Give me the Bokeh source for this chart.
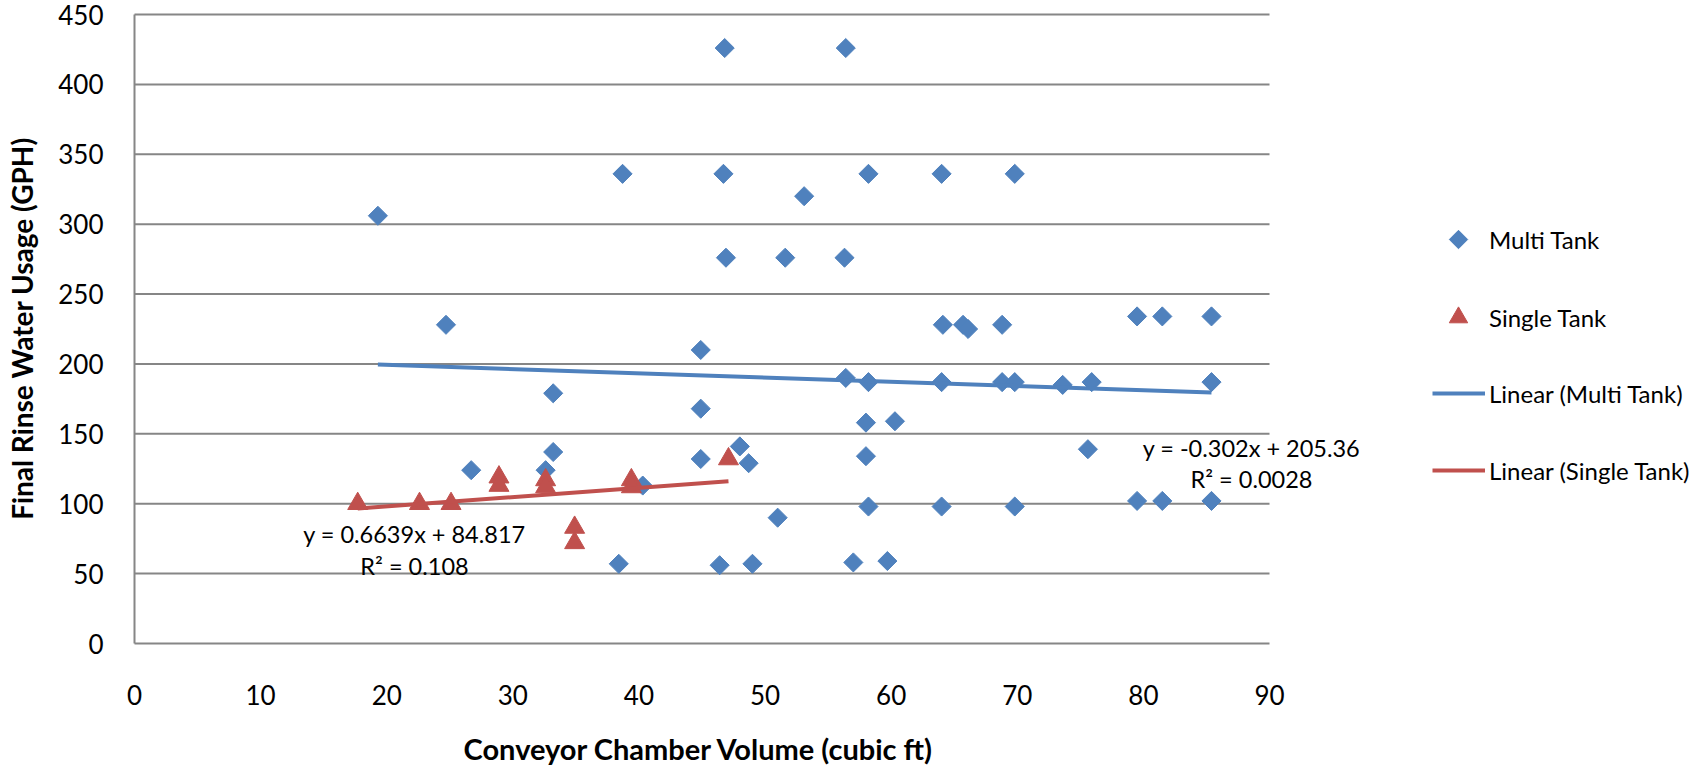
import math
from bokeh.plotting import figure
from bokeh.models import Range1d, FixedTicker, Label, Legend, LegendItem
from bokeh.embed import file_html
from bokeh.resources import INLINE

# ---------------- data ----------------
multi_x = [19.3, 24.7, 26.7, 32.6, 33.2, 33.2, 38.4, 38.7, 40.3, 44.9, 44.9, 44.9,
           46.4, 46.7, 46.8, 46.9, 48.0, 48.7, 49.0, 51.0, 51.6, 53.1, 56.3, 56.4,
           56.4, 57.0, 58.0, 58.0, 58.2, 58.2, 58.2, 59.7, 60.3, 64.0, 64.0, 64.0,
           64.1, 65.7, 66.1, 68.8, 68.8, 69.8, 69.8, 69.8, 73.6, 75.6, 75.9, 79.5,
           79.5, 81.5, 81.5, 85.4, 85.4, 85.4]
multi_y = [306, 228, 124, 124, 137, 179, 57, 336, 113, 210, 168, 132,
           56, 336, 426, 276, 141, 129, 57, 90, 276, 320, 276, 426,
           190, 58, 158, 134, 336, 187, 98, 59, 159, 336, 187, 98,
           228, 228, 225, 228, 187, 336, 187, 98, 185, 139, 187, 234,
           102, 234, 102, 234, 187, 102]

single_x = [17.7, 22.6, 25.1, 28.9, 28.9, 32.6, 32.6, 34.9, 34.9, 39.4, 39.4, 47.1]
single_y = [100, 100, 100, 119, 113, 117, 112, 83, 72, 117, 112, 132]

multi_slope, multi_intercept = -0.302, 205.36
single_slope, single_intercept = 0.6639, 84.817
multi_eq = "y = -0.302x + 205.36"
multi_r2 = "R² = 0.0028"
single_eq = "y = 0.6639x + 84.817"
single_r2 = "R² = 0.108"

series_names = ["Multi Tank", "Single Tank", "Linear (Multi Tank)", "Linear (Single Tank)"]
x_ticks = [0, 10, 20, 30, 40, 50, 60, 70, 80, 90]
y_ticks = [0, 50, 100, 150, 200, 250, 300, 350, 400, 450]
x_title = "Conveyor Chamber Volume  (cubic ft)"
y_title = "Final Rinse Water Usage (GPH)"

# ---------------- layout (figure pixels, origin top-left) ----------------
W, H = 1697, 767
X0_PX, X90_PX = 134, 1269      # where x = 0 and x = 90 sit
Y0_PX, Y450_PX = 643, 14       # where y = 0 and y = 450 sit
x_ppu = (X90_PX - X0_PX) / (x_ticks[-1] - x_ticks[0])
y_ppu = (Y0_PX - Y450_PX) / (y_ticks[-1] - y_ticks[0])
x_start = -X0_PX / x_ppu
x_end = x_start + W / x_ppu
y_start = -(H - Y0_PX) / y_ppu
y_end = y_start + H / y_ppu


def px_x(px):
    return x_start + px / x_ppu


def px_y(py):
    return y_start + (H - py) / y_ppu


BLUE = "#4F81BD"
RED = "#C0504D"
GRID = "#868686"
FONT = "Lato"

p = figure(width=W, height=H,
           x_range=Range1d(x_start, x_end), y_range=Range1d(y_start, y_end),
           output_backend="svg", toolbar_location=None,
           min_border=0, min_border_left=0, min_border_right=0,
           min_border_top=0, min_border_bottom=0)
p.outline_line_color = None
p.xgrid.visible = False
p.ygrid.visible = False

p.xaxis.ticker = FixedTicker(ticks=x_ticks)
p.yaxis.ticker = FixedTicker(ticks=y_ticks)
p.xaxis.fixed_location = 0
p.yaxis.fixed_location = 0
for ax in (p.xaxis[0], p.yaxis[0]):
    ax.major_tick_line_color = None
    ax.minor_tick_line_color = None
    ax.major_tick_out = 0
    ax.major_tick_in = 0
    ax.minor_tick_out = 0
    ax.minor_tick_in = 0
    ax.axis_line_color = None
    ax.major_label_text_font = FONT
    ax.major_label_text_font_size = "26px"
    ax.major_label_text_color = "black"
p.xaxis.major_label_standoff = 41
p.yaxis.major_label_standoff = 31

# gridlines (horizontal, ending at x = 90) and the vertical axis line
p.segment(x0=[x_ticks[0]] * len(y_ticks), x1=[x_ticks[-1]] * len(y_ticks),
          y0=y_ticks, y1=y_ticks, line_color=GRID, line_width=2)
p.segment(x0=[x_ticks[0]], x1=[x_ticks[0]], y0=[y_ticks[0]], y1=[y_ticks[-1]],
          line_color=GRID, line_width=2)

# axis titles
p.add_layout(Label(x=px_x(702), y=px_y(748), text=x_title, text_align="center",
                   text_baseline="middle", text_font=FONT, text_font_style="bold",
                   text_font_size="29px", text_color="black"))
p.add_layout(Label(x=px_x(21), y=px_y(328), text=y_title, angle=math.pi / 2,
                   text_align="center", text_baseline="middle", text_font=FONT,
                   text_font_style="bold", text_font_size="28px", text_color="black"))

# ---------------- glyphs ----------------
r_multi = p.scatter(multi_x, multi_y, marker="square", size=13.5, angle=math.pi / 4,
                    fill_color=BLUE, line_color=BLUE)
r_single = p.scatter(single_x, single_y, marker="triangle", size=20,
                     fill_color=RED, line_color=RED)

mx = [min(multi_x), max(multi_x)]
my = [multi_slope * v + multi_intercept for v in mx]
sx = [min(single_x), max(single_x)]
sy = [single_slope * v + single_intercept for v in sx]
r_mline = p.line(mx, my, line_color=BLUE, line_width=4)
r_sline = p.line(sx, sy, line_color=RED, line_width=4)

# ---------------- equation labels ----------------
for (lx, ly, txt) in [(1251, 447, multi_eq), (1251, 478, multi_r2),
                      (414, 533, single_eq), (414, 565, single_r2)]:
    p.add_layout(Label(x=px_x(lx), y=px_y(ly), text=txt, text_align="center",
                       text_baseline="middle", text_font=FONT, text_font_size="23.5px",
                       text_color="black"))

# ---------------- legends ----------------
def make_legend(items, loc, gw, gh, standoff, spacing=0):
    lg = Legend(items=items, location=loc, glyph_width=gw, glyph_height=gh,
                label_standoff=standoff, spacing=spacing, padding=0, margin=0,
                border_line_color=None, background_fill_alpha=0,
                label_text_font=FONT, label_text_font_size="24px",
                label_text_color="black", label_text_baseline="middle")
    p.add_layout(lg)
    return lg

# legend swatch for the diamond markers (legend glyphs are never rotated by Bokeh)
p.scatter([px_x(1458)], [px_y(239)], marker="square", size=13, angle=math.pi / 4,
          fill_color=BLUE, line_color=BLUE)
make_legend([LegendItem(label=series_names[0], renderers=[r_multi])],
            (1458, H - 256), 1, 34, 30)
make_legend([LegendItem(label=series_names[1], renderers=[r_single])],
            (1435, H - 340), 46, 46, 8)
make_legend([LegendItem(label=series_names[2], renderers=[r_mline]),
             LegendItem(label=series_names[3], renderers=[r_sline])],
            (1432, H - 490), 53, 40, 4, spacing=37)

open("out.html", "w").write(file_html(p, INLINE))
